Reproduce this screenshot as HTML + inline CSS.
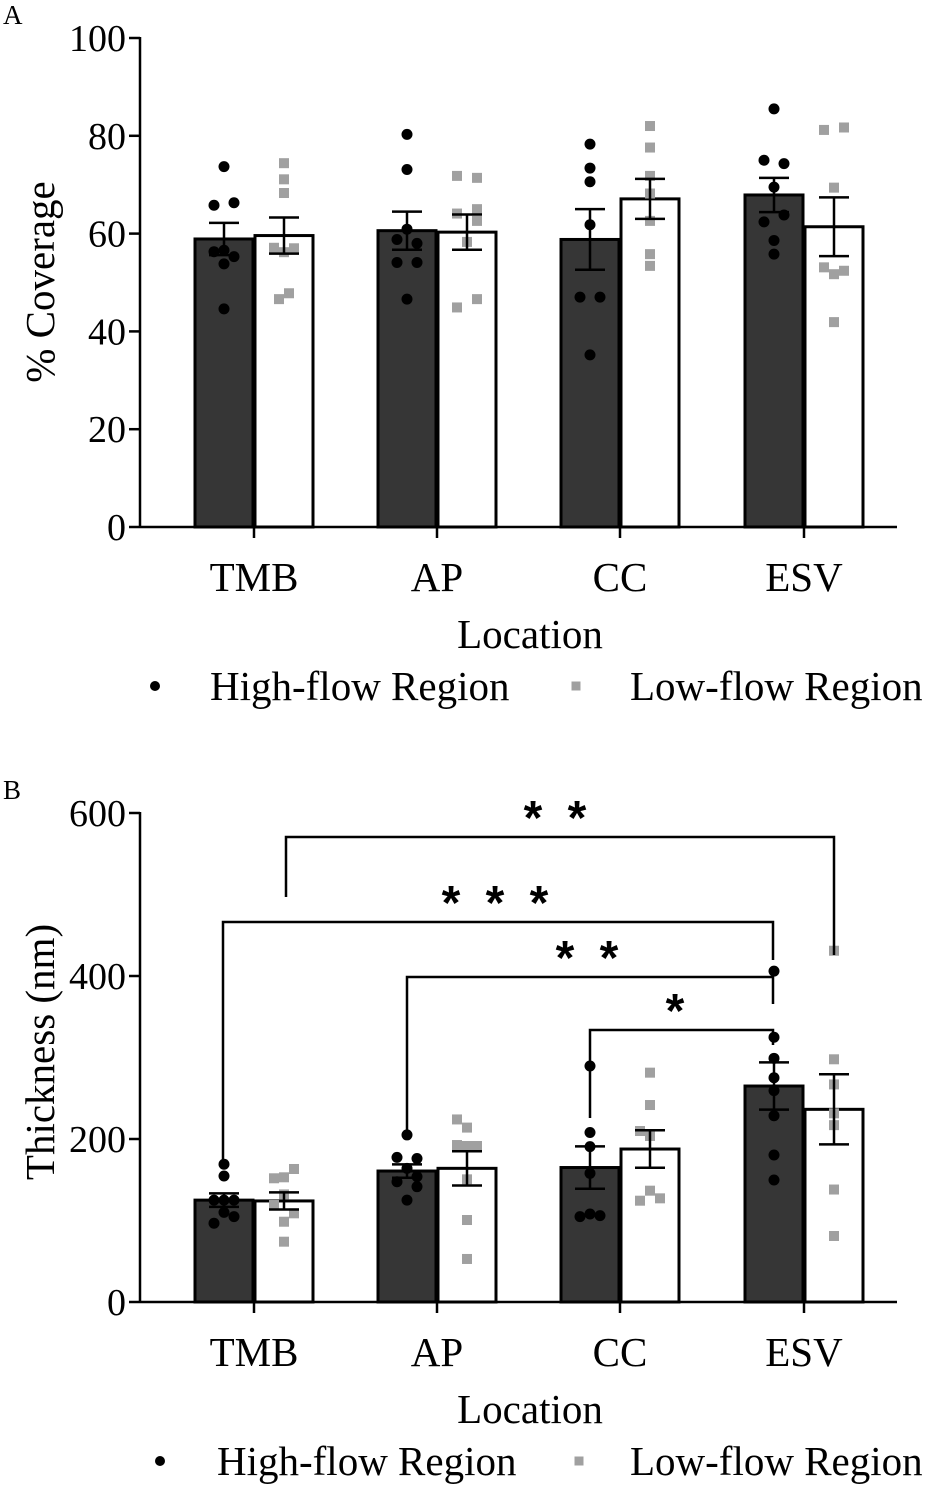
<!DOCTYPE html>
<html><head><meta charset="utf-8"><style>
html,body{margin:0;padding:0;background:#fff;}
svg{display:block;font-family:"Liberation Serif",serif;}
</style></head><body>
<svg id="fig" width="926" height="1486" viewBox="0 0 926 1486"></svg>
<script>
const categories = ["TMB","AP","CC","ESV"];
// Panel A (% coverage)
const aHighMean = [58.9, 60.6, 58.8, 67.9];
const aHighErr = [3.3, 3.9, 6.2, 3.5];
const aLowMean = [59.6, 60.3, 67.1, 61.4];
const aLowErr = [3.7, 3.6, 4.1, 6.0];
const aHighPts = [
 [[73.7,0],[65.8,-1],[66.3,1],[56.3,-1],[56.6,0],[55.3,1],[53.8,0],[44.6,0]],
 [[80.3,0],[73.1,0],[60.9,0],[58.8,-1],[58.0,1],[54.1,-1],[54.1,1],[46.6,0]],
 [[78.3,0],[73.4,0],[70.6,0],[61.8,0],[47,-1],[47,1],[35.2,0]],
 [[85.5,0],[75,-1],[74.3,1],[69.5,0],[63.8,1],[62.4,-1],[58.6,0],[55.8,0]]
];
const aLowPts = [
 [[74.4,0],[71.1,0],[68.3,0],[57.1,-1],[56.2,0],[57,1],[46.6,-0.5],[47.8,0.5]],
 [[71.8,-1],[71.4,1],[64.1,-1],[65,1],[62.6,1],[58.3,0],[44.9,-1],[46.6,1]],
 [[82,0],[77.6,0],[71.8,0],[68.2,0],[62.6,0],[55.8,0],[53.4,0]],
 [[81.2,-1],[81.7,1],[69.4,0],[53.1,-1],[51.7,0],[52.4,1],[41.9,0]]
];
const aTicks = [0,20,40,60,80,100];
// Panel B (thickness)
const bHighMean = [125, 160.7, 165, 265];
const bHighErr = [8.3, 8.2, 26, 29];
const bLowMean = [124, 164, 187.7, 236.4];
const bLowErr = [10.5, 21, 23, 43];
const bHighPts = [
 [[169,0],[154.6,0],[125,-1],[125,0],[125,1],[110,0],[104.7,1],[96.6,-1]],
 [[205,0],[177.5,-1],[176,1],[164,0],[153.8,1],[147.6,-1],[141.5,1],[125,0]],
 [[289.6,0],[208,0],[190.6,0],[157.9,0],[104.7,-1],[108,0],[106,1]],
 [[406,0],[324.8,0],[299,0],[275.2,0],[259.3,0],[228.6,0],[180.4,0],[149.7,0]]
];
const bLowPts = [
 [[151.8,-1],[153,0],[163.2,1],[132,0],[119,-1],[108.8,1],[98.5,0],[74,0]],
 [[224,-1],[214,0],[192.6,-1],[191.4,0],[191.4,1],[150.5,0],[100.6,0],[52.8,0]],
 [[281.4,0],[241.7,0],[209.8,-1],[203.7,0],[136.6,0],[124.3,-1],[127.2,1]],
 [[431,0],[297.8,0],[267,0],[231.5,0],[217,0],[138,0],[81,0]]
];
const bTicks = [0,200,400,600];
const sigLabels = ["* *","* * *","* *","*"];

const NS="http://www.w3.org/2000/svg";
const svg=document.getElementById('fig');
function mk(tag,attrs,parent){const e=document.createElementNS(NS,tag);for(const k in attrs)e.setAttribute(k,attrs[k]);(parent||svg).appendChild(e);return e;}
function txt(s,x,y,size,anchor,parent){const t=mk('text',{x:x,y:y,'font-size':size,'text-anchor':anchor||'middle',fill:'#000'},parent);t.textContent=s;return t;}

const groupX=[254,437,620,804];
const axisX=140, axisEnd=897, bw=58;

function panel(cfg){
  const g=mk('g',{});
  
  
  const y=v=>cfg.y0-(v-0)*(cfg.y0-cfg.yTop)/cfg.max;
  for(let i=0;i<categories.length;i++){
    [[cfg.hm,cfg.he,cfg.hp,-1],[cfg.lm,cfg.le,cfg.lp,1]].forEach(([m,e,p,side])=>{
      const cx=groupX[i]+side*30;
      const r=mk('rect',{x:cx-bw/2,y:y(m[i]),width:bw,height:cfg.y0-y(m[i]),fill:side<0?'#363636':'#fff',stroke:'#000','stroke-width':3},g);
      
      
      p[i].forEach(([v,o])=>{
        const px=cx+o*10;
        let el;
        if(side<0) el=mk('circle',{cx:px,cy:y(v),r:5.5,fill:'#000'},g);
        else el=mk('rect',{x:px-5,y:y(v)-5,width:10,height:10,fill:'#a0a0a0'},g);
        
        
      });
      const eg=mk('g',{stroke:'#000','stroke-width':2.5,fill:'none'},g);
      
      
      mk('line',{x1:cx,x2:cx,y1:y(m[i]+e[i]),y2:y(m[i]-e[i])},eg);
      mk('line',{x1:cx-15,x2:cx+15,y1:y(m[i]+e[i]),y2:y(m[i]+e[i])},eg);
      mk('line',{x1:cx-15,x2:cx+15,y1:y(m[i]-e[i]),y2:y(m[i]-e[i])},eg);
    });
  }
  const ax=mk('g',{stroke:'#000','stroke-width':2.5},g);
  
  
  mk('line',{x1:axisX,x2:axisX,y1:cfg.yTop-1,y2:cfg.y0},ax);
  mk('line',{x1:axisX,x2:axisEnd,y1:cfg.y0,y2:cfg.y0},ax);
  cfg.ticks.forEach(t=>{
    mk('line',{x1:axisX-11,x2:axisX,y1:y(t),y2:y(t)},ax);
    const l=txt(String(t),axisX-14,y(t)+13,38,'end',g);
    
    
  });
  categories.forEach((c,i)=>{
    mk('line',{x1:groupX[i],x2:groupX[i],y1:cfg.y0,y2:cfg.y0+11},ax);
    const l=txt(c,groupX[i],cfg.y0+64,41,'middle',g);
    
    
  });
  const xt=txt('Location',530,cfg.y0+121,41,'middle',g);
  
  
  const yt=txt(cfg.ylabel,0,0,41,'middle',g);
  yt.setAttribute('transform','translate('+cfg.ylx+','+cfg.yly+') rotate(-90)');
  
  
  const pl=txt(cfg.letter,3,cfg.letterY,27,'start',g);
  
  
  const lg=mk('g',{},g);
  
  
  mk('circle',{cx:cfg.legDot,cy:cfg.legY,r:5,fill:'#000'},lg);
  txt('High-flow Region',cfg.legT1,cfg.legY+14,41,'start',lg);
  mk('rect',{x:cfg.legSq-4.5,y:cfg.legY-4.5,width:9,height:9,fill:'#a0a0a0'},lg);
  txt('Low-flow Region',630,cfg.legY+14,41,'start',lg);
  return y;
}

panel({name:'panel-a-coverage',y0:527,yTop:38,max:100,hm:aHighMean,he:aHighErr,lm:aLowMean,le:aLowErr,hp:aHighPts,lp:aLowPts,ticks:aTicks,ylabel:'% Coverage',ylx:54,yly:282,letter:'A',letterY:24,legY:686,legDot:155,legT1:210,legSq:576});
panel({name:'panel-b-thickness',y0:1302,yTop:813,max:600,hm:bHighMean,he:bHighErr,lm:bLowMean,le:bLowErr,hp:bHighPts,lp:bLowPts,ticks:bTicks,ylabel:'Thickness (nm)',ylx:54,yly:1052,letter:'B',letterY:799,legY:1461,legDot:160,legT1:217,legSq:579});

const brackets=[[286,837,897,834,955,558],[223,922,1160,773,960,498],[407,977,1130,773,1004,590],[590,1030,1118,773,1045,678]];
const bg=mk('g',{stroke:'#000','stroke-width':2.5,fill:'none'});


brackets.forEach((b,i)=>{
  mk('polyline',{points:b[0]+','+b[2]+' '+b[0]+','+b[1]+' '+b[3]+','+b[1]+' '+b[3]+','+b[4]},bg);
  const t=txt(sigLabels[i],b[5],b[1]-3,48,'middle');
  t.setAttribute('font-family','"Liberation Sans",sans-serif');
  t.setAttribute('font-weight','bold');
  t.setAttribute('letter-spacing','6');
  
  
});
</script>
</body></html>
